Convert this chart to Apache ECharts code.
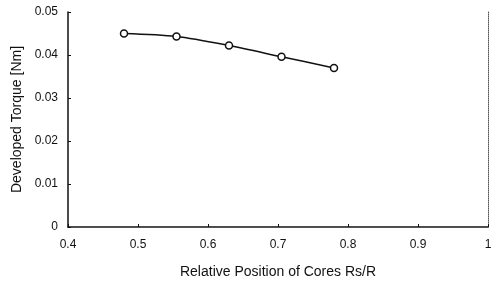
<!DOCTYPE html>
<html>
<head>
<meta charset="utf-8">
<script src="https://cdn.jsdelivr.net/npm/echarts@6/dist/echarts.min.js"></script>
<style>
  html, body { margin: 0; padding: 0; background: #fff; }
  #chart { width: 496px; height: 284px; }
</style>
</head>
<body>
<div id="chart"></div>
<script>
  // values
  const positions = [0.48, 0.555, 0.63, 0.705, 0.78];
  const torque = [0.045, 0.0443, 0.0422, 0.0396, 0.037];

  const font = 'Liberation Sans, Arial, sans-serif';
  const chart = echarts.init(document.getElementById('chart'));

  const option = {
    animation: false,
    grid: { left: 68, right: 8, top: 12, bottom: 55 },
    xAxis: [
      {
        type: 'value',
        min: 0.4, max: 1, interval: 0.1,
        name: 'Relative Position of Cores Rs/R',
        nameLocation: 'middle',
        nameGap: 38,
        nameTextStyle: { color: '#111', fontSize: 14, fontFamily: font },
        axisLine: { lineStyle: { color: '#111', width: 1.5 } },
        axisTick: { inside: true, length: 3, lineStyle: { color: '#111' } },
        axisLabel: { color: '#111', fontSize: 12, fontFamily: font, margin: 12,
          formatter: v => (v === 1 ? '1' : v.toFixed(1)) },
        splitLine: { show: false }
      },
      {
        type: 'value', position: 'top',
        min: 0.4, max: 1,
        axisLine: { show: true, lineStyle: { color: '#555', type: 'dotted', width: 1 } },
        axisTick: { show: false }, axisLabel: { show: false }, splitLine: { show: false }
      }
    ],
    yAxis: [
      {
        type: 'value',
        min: 0, max: 0.05, interval: 0.01,
        name: 'Developed Torque [Nm]',
        nameLocation: 'middle',
        nameGap: 43,
        nameTextStyle: { color: '#111', fontSize: 14, fontFamily: font },
        axisLine: { show: true, lineStyle: { color: '#111', width: 1.5 } },
        axisTick: { show: true, inside: true, length: 3, lineStyle: { color: '#111' } },
        axisLabel: { color: '#111', fontSize: 12, fontFamily: font, margin: 10,
          formatter: v => (v === 0 ? '0' : v.toFixed(2)) },
        splitLine: { show: false }
      },
      {
        type: 'value', position: 'right',
        min: 0, max: 0.05,
        axisLine: { show: true, lineStyle: { color: '#555', type: 'dotted', width: 1 } },
        axisTick: { show: false }, axisLabel: { show: false }, splitLine: { show: false }
      }
    ],
    series: [
      {
        type: 'line',
        data: positions.map((x, i) => [x, torque[i]]),
        smooth: 0.3,
        symbol: 'circle',
        symbolSize: 7,
        itemStyle: { color: '#fff', borderColor: '#111', borderWidth: 1.5 },
        lineStyle: { color: '#111', width: 1.5 }
      }
    ]
  };
  chart.setOption(option);
</script>
</body>
</html>
